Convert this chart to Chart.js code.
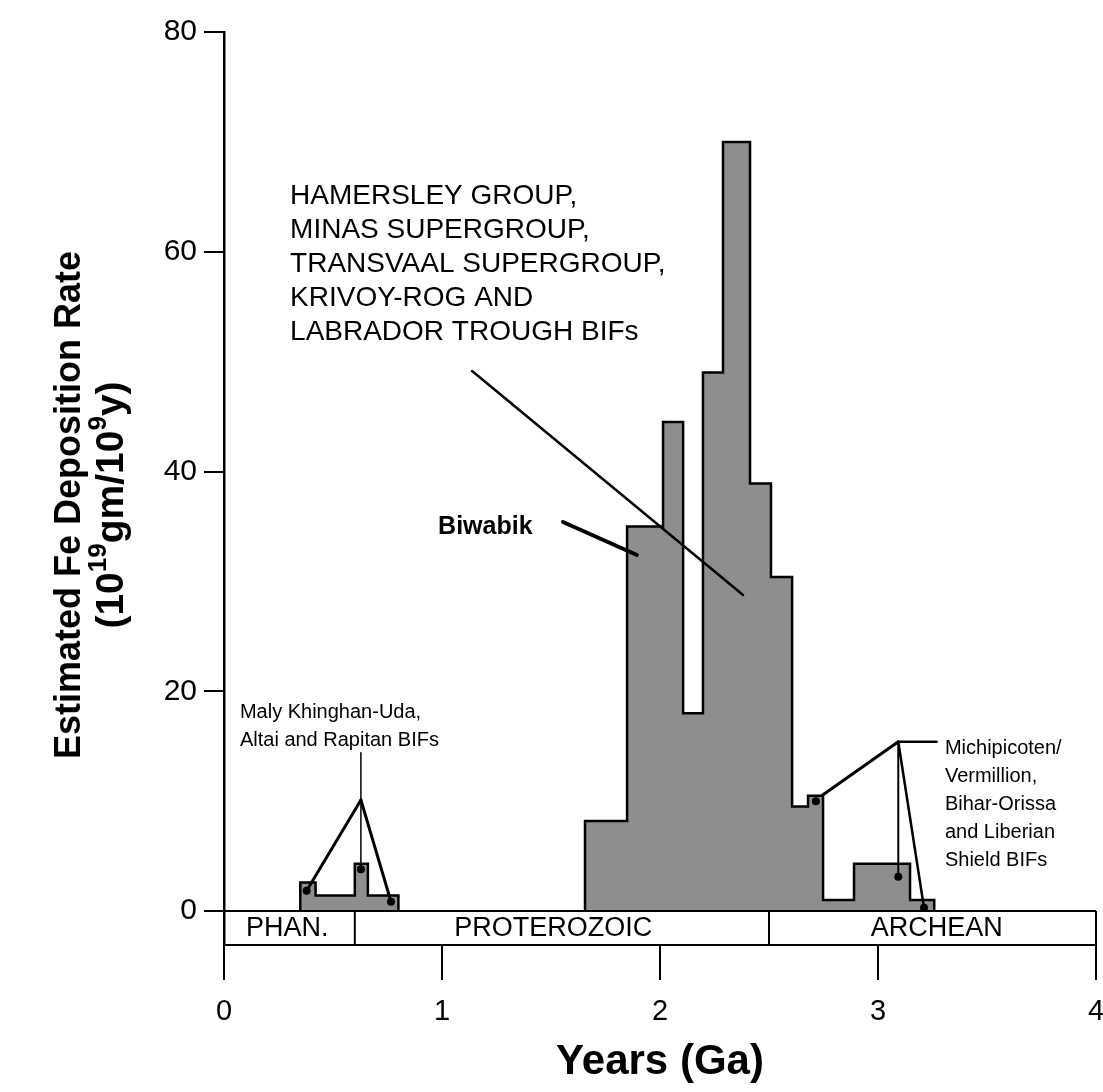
<!DOCTYPE html>
<html>
<head>
<meta charset="utf-8">
<script src="https://cdn.jsdelivr.net/npm/chart.js@4.4.0/dist/chart.umd.min.js"></script>
<style>
  html, body { margin: 0; padding: 0; background: #fff; }
  canvas { display: block; }
</style>
</head>
<body>
<canvas id="fe" width="1103" height="1092"></canvas>
<script>
// Fe deposition rate histogram (10^19 gm / 10^9 y), bin edges in Ga
const phanEdges = [0.35, 0.42, 0.60, 0.66, 0.80];
const phanRates = [2.6, 1.4, 4.3, 1.4];

const mainEdges = [1.656, 1.849, 2.014, 2.106, 2.197, 2.289, 2.413, 2.509, 2.606, 2.679, 2.748, 2.890, 3.147, 3.258];
const mainRates = [8.2, 35.0, 44.5, 18.0, 49.0, 70.0, 38.9, 30.4, 9.5, 10.5, 1.0, 4.3, 1.0];

const yTicks = [0, 20, 40, 60, 80];
const xTicks = [0, 1, 2, 3, 4];

const eraNames = ['PHAN.', 'PROTEROZOIC', 'ARCHEAN'];
const eraBounds = [0, 0.6, 2.5, 4];
const eraLabelAt = [0.29, 1.51, 3.27];

const hamersleyText = ['HAMERSLEY GROUP,', 'MINAS SUPERGROUP,', 'TRANSVAAL SUPERGROUP,', 'KRIVOY-ROG AND', 'LABRADOR TROUGH BIFs'];
const malyText = ['Maly Khinghan-Uda,', 'Altai and Rapitan BIFs'];
const archeanText = ['Michipicoten/', 'Vermillion,', 'Bihar-Orissa', 'and Liberian', 'Shield BIFs'];

const FONT = "'Liberation Sans', Arial, Helvetica, sans-serif";
Chart.defaults.font.family = FONT;
Chart.defaults.color = '#000';

// turn bins into a closed stepped outline: up at the first edge, down at the last
function stepPoints(edges, rates) {
  const pts = [{ x: edges[0], y: 0 }];
  rates.forEach((r, i) => pts.push({ x: edges[i], y: r }));
  pts.push({ x: edges[edges.length - 1], y: 0 });
  return pts;
}

function histSet(edges, rates) {
  return {
    data: stepPoints(edges, rates),
    stepped: true,
    fill: 'origin',
    backgroundColor: '#8e8e8e',
    borderColor: '#000',
    borderWidth: 2.5,
    borderJoinStyle: 'miter',
    pointRadius: 0,
    tension: 0
  };
}

// leader lines, in data units (Ga, rate)
const leaders = [
  { from: [1.138, 49.15], to: [2.381, 28.76], w: 2.5 },   // Hamersley etc.
  { from: [1.555, 35.4], to: [1.894, 32.4], w: 4 },       // Biwabik
  { from: [0.628, 14.4], to: [0.628, 3.8], w: 1.5 },
  { from: [0.628, 10.1], to: [0.379, 1.84], w: 3 },
  { from: [0.628, 10.1], to: [0.766, 0.85], w: 3 },
  { from: [3.093, 15.4], to: [3.269, 15.4], w: 2.5 },
  { from: [3.093, 15.4], to: [2.746, 10.55], w: 3 },
  { from: [3.093, 15.4], to: [3.093, 3.12], w: 2 },
  { from: [3.093, 15.4], to: [3.211, 0.3], w: 2.5 }
];
const dots = [[0.379, 1.84], [0.766, 0.85], [0.628, 3.8], [3.093, 3.12], [3.211, 0.3], [2.715, 10.0]];

const overlay = {
  id: 'overlay',
  afterDatasetsDraw(chart) {
    const { ctx, scales: { x, y }, chartArea: a } = chart;
    const px = v => x.getPixelForValue(v);
    const py = v => y.getPixelForValue(v);
    const y0 = py(0);
    ctx.save();

    // era strip between the zero line and the time axis
    ctx.strokeStyle = '#000';
    ctx.lineWidth = 2;
    ctx.beginPath();
    ctx.moveTo(a.left, y0);
    ctx.lineTo(a.right, y0);
    eraBounds.slice(1).forEach(b => {
      ctx.moveTo(px(b), y0);
      ctx.lineTo(px(b), a.bottom);
    });
    ctx.stroke();
    ctx.fillStyle = '#000';
    ctx.font = '27px ' + FONT;
    ctx.textAlign = 'center';
    ctx.textBaseline = 'middle';
    eraNames.forEach((n, i) => ctx.fillText(n, px(eraLabelAt[i]), (y0 + a.bottom) / 2 + 1));

    // leaders and their end dots
    ctx.lineCap = 'round';
    leaders.forEach(l => {
      ctx.lineWidth = l.w;
      ctx.beginPath();
      ctx.moveTo(px(l.from[0]), py(l.from[1]));
      ctx.lineTo(px(l.to[0]), py(l.to[1]));
      ctx.stroke();
    });
    dots.forEach(d => {
      ctx.beginPath();
      ctx.arc(px(d[0]), py(d[1]), 4, 0, Math.PI * 2);
      ctx.fill();
    });

    // annotation text
    ctx.textAlign = 'left';
    const block = (lines, gx, gy, size, gap, weight) => {
      ctx.font = (weight || '') + ' ' + size + 'px ' + FONT;
      lines.forEach((t, i) => ctx.fillText(t, px(gx), py(gy) + i * gap));
    };
    block(hamersleyText, 0.303, 65.07, 28, 34);
    block(malyText, 0.073, 18.1, 20, 28);
    block(archeanText, 3.307, 14.83, 20, 28);
    block(['Biwabik'], 0.982, 34.95, 25, 0, 'bold');

    // rotated y-axis title with superscripts
    ctx.translate(70, 505);
    ctx.rotate(-Math.PI / 2);
    ctx.textAlign = 'center';
    ctx.font = 'bold 36px ' + FONT;
    ctx.fillText('Estimated Fe Deposition Rate', 0, 0);
    const parts = [['(10', 0], ['19', 1], ['gm/10', 0], ['9', 1], ['y)', 0]];
    const fnt = s => s ? 'bold 26px ' + FONT : 'bold 39px ' + FONT;
    let total = 0;
    parts.forEach(p => { ctx.font = fnt(p[1]); total += ctx.measureText(p[0]).width; });
    let cx = -total / 2;
    ctx.textAlign = 'left';
    parts.forEach(p => {
      ctx.font = fnt(p[1]);
      ctx.fillText(p[0], cx, p[1] ? 29 : 42);
      cx += ctx.measureText(p[0]).width;
    });
    ctx.restore();
  }
};

new Chart(document.getElementById('fe'), {
  type: 'line',
  data: { datasets: [histSet(phanEdges, phanRates), histSet(mainEdges, mainRates)] },
  options: {
    responsive: false,
    animation: false,
    layout: { padding: { top: 32, right: 7, left: 0, bottom: 0 } },
    plugins: { legend: { display: false }, tooltip: { enabled: false } },
    scales: {
      x: {
        type: 'linear',
        min: 0,
        max: 4,
        afterBuildTicks: s => { s.ticks = xTicks.map(v => ({ value: v })); },
        afterFit: s => { s.height = 147; s.paddingLeft = 0; s.paddingRight = 0; },
        ticks: { font: { size: 29 }, padding: 15, color: '#000' },
        grid: { drawOnChartArea: false, tickLength: 35, color: '#000', lineWidth: 2 },
        border: { color: '#000', width: 2 },
        title: { display: true, text: 'Years (Ga)', font: { size: 42, weight: 'bold' }, color: '#000', padding: { top: 0, bottom: 4 } }
      },
      y: {
        min: -3.094,
        max: 80,
        afterBuildTicks: s => { s.ticks = yTicks.map(v => ({ value: v })); },
        afterFit: s => { s.width = 224; s.paddingTop = 0; s.paddingBottom = 0; },
        ticks: { font: { size: 30 }, padding: 7, color: '#000' },
        grid: { drawOnChartArea: false, tickLength: 20, color: '#000', lineWidth: 2 },
        border: { color: '#000', width: 2.5 }
      }
    }
  },
  plugins: [overlay]
});
</script>
</body>
</html>
